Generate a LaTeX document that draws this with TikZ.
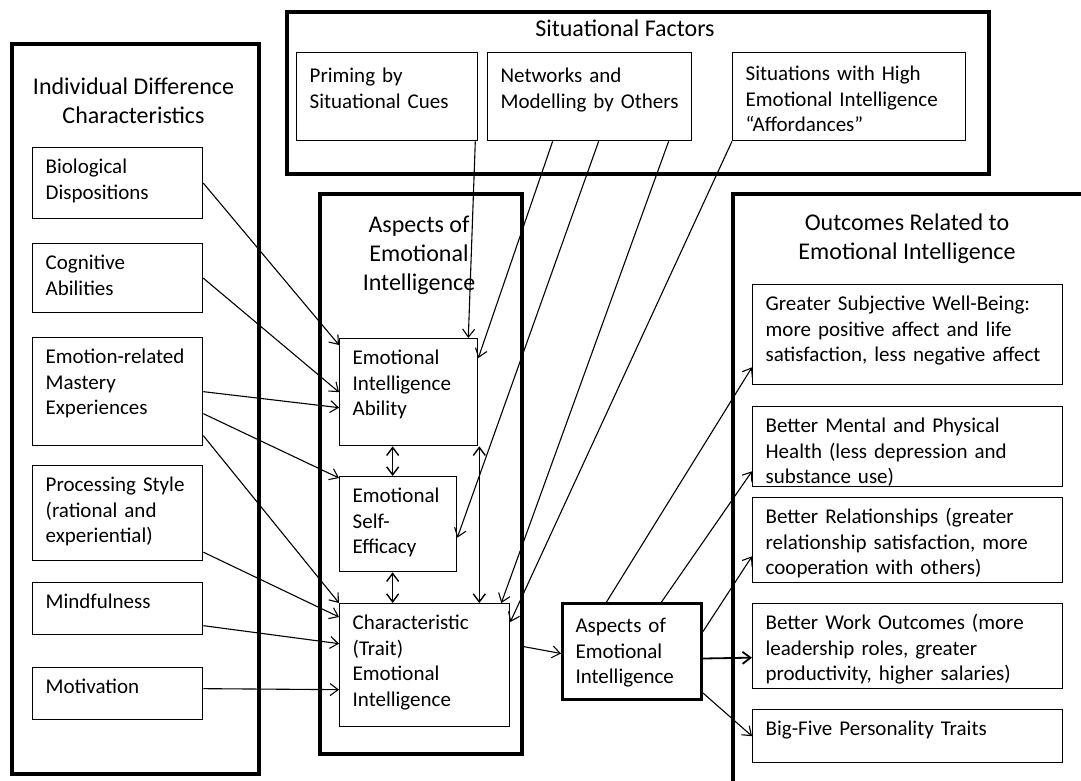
\documentclass[tikz,border=0pt]{standalone}
\usepackage{fontspec}
\setmainfont{Carlito}
\usetikzlibrary{arrows.meta}

\newlength{\leftwidth}
\setlength{\leftwidth}{144pt}
\newlength{\outwidth}
\setlength{\outwidth}{284pt}

\tikzset{
    groupbox/.style={draw, line width=3.5pt, anchor=north west, inner sep=0pt},
    heading/.style={align=center, font=\fontsize{24}{29}\selectfont},
    itembox/.style={draw, line width=1.3pt, anchor=north west, align=left,
        inner xsep=13pt, inner ysep=9pt, text height=17pt,
        font=\fontsize{21}{25.5}\selectfont},
    arrowlink/.style={line width=1.1pt, -{Straight Barb[length=8pt,width=12pt]}},
    twoway/.style={line width=1.4pt,
        {Straight Barb[length=8pt,width=12pt]}-{Straight Barb[length=8pt,width=12pt]}},
}

\begin{document}
\begin{tikzpicture}[x=1pt, y=-1pt]
    \useasboundingbox (0,0) rectangle (1081,780);
    \clip (0,0) rectangle (1081,780);

    % the four groups
    \node[groupbox, minimum width=247pt, minimum height=730pt] (indiv) at (10,42) {};
    \node[groupbox, minimum width=702pt, minimum height=162pt] (situ) at (285,10) {};
    \node[groupbox, minimum width=202pt, minimum height=560pt] (aspects) at (318,192) {};
    \node[groupbox, minimum width=420pt, minimum height=640pt] (outcomes) at (731,192) {};

    \node[heading] (indivtitle) at (133.5,101) {Individual Difference\\Characteristics};
    \node[heading] (situtitle) at (625,28) {Situational Factors};
    \node[heading] (aspectstitle) at (419,255) {Aspects of\\Emotional\\Intelligence};
    \node[heading] (outcomestitle) at (907,239) {Outcomes Related to\\Emotional Intelligence};

    % individual differences
    \node[itembox, text width=\leftwidth, text depth=36pt] (bio) at (32,147) {Biological\\Dispositions};
    \node[itembox, text width=\leftwidth, text depth=34pt] (cog) at (32,243) {Cognitive\\Abilities};
    \node[itembox, text width=\leftwidth, text depth=73pt] (emo) at (32,337) {Emotion-related\\Mastery\\Experiences};
    \node[itembox, text width=\leftwidth, text depth=60pt] (proc) at (32,465) {Processing Style\\(rational and\\experiential)};
    \node[itembox, text width=\leftwidth, text depth=17pt] (mind) at (32,582) {Mindfulness};
    \node[itembox, text width=\leftwidth, text depth=17pt] (motiv) at (32,667) {Motivation};

    % situational factors
    \node[itembox, inner ysep=13pt, text width=155pt, text depth=45pt] (prim) at (296,52) {Priming by\\Situational Cues};
    \node[itembox, inner ysep=13pt, text width=178pt, text depth=45pt] (netw) at (487,52) {Networks and\\Modelling by Others};
    \node[itembox, inner ysep=11pt, text width=207pt, text depth=49pt] (sitn) at (732,52) {Situations with High\\Emotional Intelligence\\``Affordances''};

    % aspects of emotional intelligence
    \node[itembox, text width=112pt, text depth=72pt] (abil) at (339,338) {Emotional\\Intelligence\\Ability};
    \node[itembox, text width=91pt, text depth=60pt] (seff) at (339,476) {Emotional\\Self-\\Efficacy};
    \node[itembox, text width=\leftwidth, text depth=88pt] (trait) at (339,603) {Characteristic\\(Trait)\\Emotional\\Intelligence};
    \node[itembox, line width=3pt, inner ysep=12pt, text width=113pt, text depth=55pt] (asp2) at (561,602) {Aspects of\\Emotional\\Intelligence};

    % outcomes
    \node[itembox, text width=\outwidth, text depth=65pt] (gsw) at (752,284) {Greater Subjective Well-Being:\\more positive affect and life\\satisfaction, less negative affect};
    \node[itembox, text width=\outwidth, text depth=45pt] (health) at (752,406) {Better Mental and Physical\\Health (less depression and\\substance use)};
    \node[itembox, text width=\outwidth, text depth=50pt] (rel) at (752,497) {Better Relationships (greater\\relationship satisfaction, more\\cooperation with others)};
    \node[itembox, text width=\outwidth, text depth=50pt] (work) at (752,603) {Better Work Outcomes (more\\leadership roles, greater\\productivity, higher salaries)};
    \node[itembox, text width=\outwidth, text depth=18pt] (big5) at (752,709) {Big-Five Personality Traits};

    % links from individual differences
    \draw[arrowlink] (bio.east) -- ([yshift=-7pt]abil.north west);
    \draw[arrowlink] (cog.east) -- (abil.west);
    \draw[arrowlink] (emo.east) -- ([yshift=-15.5pt]abil.west);
    \draw[arrowlink] ([yshift=-22pt]emo.east) -- ([yshift=-2pt]seff.north west);
    \draw[arrowlink] ([yshift=-44pt]emo.east) -- (trait.north west);
    \draw[arrowlink] ([yshift=-39pt]proc.east) -- ([yshift=-14pt]trait.north west);
    \draw[arrowlink] ([yshift=-17pt]mind.east) -- ([yshift=21.5pt]trait.west);
    \draw[arrowlink] ([yshift=5pt]motiv.east) -- ([yshift=-24.5pt]trait.west);

    % links from situational factors
    \draw[arrowlink] ([xshift=-3pt]prim.south east) -- ([xshift=-10pt]abil.north east);
    \draw[arrowlink] ([xshift=-37pt]netw.south) -- ([yshift=-20pt]abil.north east);
    \draw[arrowlink] ([xshift=9pt]netw.south) -- ([yshift=-13.5pt]seff.east);
    \draw[arrowlink] ([xshift=79pt]netw.south) -- ([xshift=-9pt]trait.north east);
    \draw[arrowlink] (sitn.south west) -- ([yshift=-19pt]trait.north east);

    % between the aspects
    \draw[twoway] ([xshift=-16pt]abil.south) -- ([xshift=-5.5pt]seff.north);
    \draw[twoway] ([xshift=-5.5pt]seff.south) -- ([xshift=-32pt]trait.north);
    \draw[twoway] ([xshift=1pt]abil.south east) -- ([xshift=-31pt]trait.north east);

    % to the outcomes
    \draw[arrowlink] ([xshift=11pt, yshift=19pt]trait.east) -- ([yshift=-2pt]asp2.west);
    \draw[arrowlink] ([xshift=-25.5pt]asp2.north) -- ([yshift=18pt]gsw.south west);
    \draw[arrowlink] ([xshift=29.5pt]asp2.north) -- ([yshift=16pt]health.south west);
    \draw[arrowlink] ([yshift=20pt]asp2.east) -- ([yshift=27pt]rel.south west);
    \draw[arrowlink, line width=1.8pt] ([yshift=-7pt]asp2.east) -- ([yshift=-11.5pt]work.west);
    \draw[arrowlink] ([yshift=8pt]asp2.south east) -- (big5.west);
\end{tikzpicture}
\end{document}
